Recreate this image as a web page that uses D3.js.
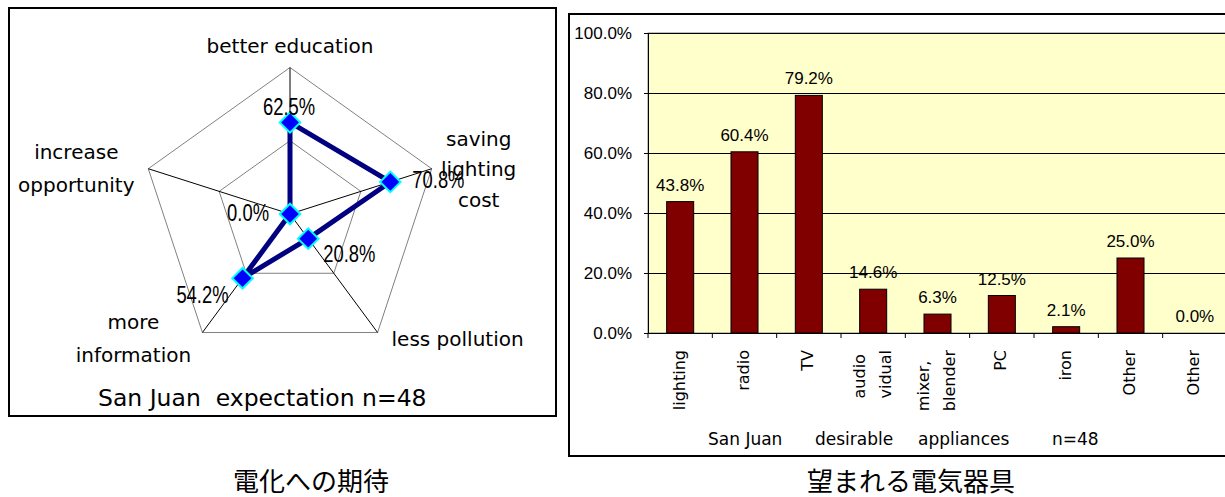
<!DOCTYPE html>
<html>
<head>
<meta charset="utf-8">
<script src="https://cdn.jsdelivr.net/npm/d3@7/dist/d3.min.js"></script>
<style>
  html, body { margin: 0; padding: 0; background: #fff; }
  svg { display: block; }
  text { white-space: pre; }
  .lbl { font-family: "DejaVu Sans", sans-serif; fill: #000; }
  .jp { font-family: "Noto Sans CJK JP", sans-serif; fill: #000; }
  .num { font-family: "Liberation Sans", Arial, sans-serif; fill: #000; }
</style>
</head>
<body>
<svg id="chart" width="1225" height="497"></svg>
<script>
// Radar: expectations of electrification (San Juan, n=48)
const radarAxes = [
  ["better education"],
  ["saving", "lighting", "cost"],
  ["less pollution"],
  ["more", "information"],
  ["increase", "opportunity"]
];
const radarValues = [62.5, 70.8, 20.8, 54.2, 0.0];
const radarGridLevels = [50, 100];
const radarTitle = "San Juan  expectation n=48";

// Bars: desirable appliances (San Juan, n=48)
const applianceLabels = [
  ["lighting"], ["radio"], ["TV"], ["audio", "vidual"], ["mixer,", "blender"],
  ["PC"], ["iron"], ["Other"], ["Other"]
];
const applianceValues = [43.8, 60.4, 79.2, 14.6, 6.3, 12.5, 2.1, 25.0, 0.0];
const barTicks = [0, 20, 40, 60, 80, 100];
const barTitleWords = ["San Juan", "desirable", "appliances", "n=48"];

const captions = ["電化への期待", "望まれる電気器具"];

const svg = d3.select("#chart");
const pct = d => d.toFixed(1) + "%";

// text drawn with a horizontal squeeze (narrow-looking lettering)
function squeezed(parent, cls, x, y, size, sx, anchor, str) {
  return parent.append("text").attr("class", cls)
    .attr("transform", `translate(${x},${y}) scale(${sx},1)`)
    .attr("font-size", size).attr("text-anchor", anchor).text(str);
}

/* ---------------- radar panel ---------------- */
svg.append("rect").attr("x", 9).attr("y", 8).attr("width", 547).attr("height", 408)
  .attr("fill", "#fff").attr("stroke", "#000").attr("stroke-width", 2);

const cx = 290, cy = 214;
const rx = d3.scaleLinear().domain([0, 100]).range([0, 149]);
const ry = d3.scaleLinear().domain([0, 100]).range([0, 146.5]);
const angle = d3.scaleLinear().domain([0, radarAxes.length]).range([0, 2 * Math.PI]);
const pt = (i, v) => {
  const a = angle(i);
  return [cx + rx(v) * Math.sin(a), cy - ry(v) * Math.cos(a)];
};

const radar = svg.append("g");
radarGridLevels.forEach(lv => {
  radar.append("polygon")
    .attr("points", radarAxes.map((_, i) => pt(i, lv).join(",")).join(" "))
    .attr("fill", "none").attr("stroke", "#808080").attr("stroke-width", 1);
});
radarAxes.forEach((_, i) => {
  const [x, y] = pt(i, 100);
  radar.append("line").attr("x1", cx).attr("y1", cy).attr("x2", x).attr("y2", y)
    .attr("stroke", "#000").attr("stroke-width", 1);
});

const radarLine = d3.line().curve(d3.curveLinearClosed);
radar.append("path")
  .attr("d", radarLine(radarValues.map((v, i) => pt(i, v))))
  .attr("fill", "none").attr("stroke", "#000080").attr("stroke-width", 5)
  .attr("stroke-linejoin", "miter");

const diamond = d3.symbol().type(d3.symbolSquare).size(210);
radarValues.forEach((v, i) => {
  const [x, y] = pt(i, v);
  radar.append("path").attr("d", diamond())
    .attr("transform", `translate(${x},${y}) rotate(45)`)
    .attr("fill", "#0000ff").attr("stroke", "#00ffff").attr("stroke-width", 2);
});

// value label placement around each marker: [dx, dy, anchor]
const valuePlacement = [[-1, -7, "middle"], [22, 6, "start"], [15, 23, "start"], [-14, 25, "end"], [-21, 7, "end"]];
radarValues.forEach((v, i) => {
  const [x, y] = pt(i, v);
  const [dx, dy, anc] = valuePlacement[i];
  squeezed(radar, "num", x + dx, y + dy, 23, 0.8, anc, pct(v));
});

// axis label placement relative to the outer vertex: [dx, dy of first baseline, line step]
const axisPlacement = [[0, -15, 31], [47, -23, 30.5], [80, 13, 31], [-69, -3.5, 33], [-72, -9.7, 33]];
radarAxes.forEach((lines, i) => {
  const [x, y] = pt(i, 100);
  const [dx, dy, step] = axisPlacement[i];
  const t = radar.append("text").attr("class", "lbl").attr("font-size", 20)
    .attr("text-anchor", "middle");
  lines.forEach((s, k) => {
    t.append("tspan").attr("x", x + dx).attr("y", y + dy + k * step).text(s);
  });
});

svg.append("text").attr("class", "lbl").attr("x", 98).attr("y", 406)
  .attr("font-size", 23.5).text(radarTitle);

/* ---------------- bar panel ---------------- */
svg.append("rect").attr("x", 569).attr("y", 14).attr("width", 700).attr("height", 442)
  .attr("fill", "#fff").attr("stroke", "#000").attr("stroke-width", 2);

const plot = { left: 648, top: 33, width: 579, height: 300 };
const x = d3.scaleBand().domain(applianceValues.map((_, i) => i))
  .range([plot.left, plot.left + plot.width]).paddingInner(0.58).paddingOuter(0.29);
const y = d3.scaleLinear().domain([0, 100]).range([plot.top + plot.height, plot.top]);
const band = plot.width / applianceValues.length;

const bars = svg.append("g");
bars.append("rect").attr("x", plot.left).attr("y", plot.top)
  .attr("width", plot.width).attr("height", plot.height)
  .attr("fill", "#ffffcc").attr("stroke", "#808080").attr("stroke-width", 1);

bars.append("g").selectAll("line").data(barTicks.filter(d => d > 0)).join("line")
  .attr("x1", plot.left).attr("x2", plot.left + plot.width)
  .attr("y1", d => y(d) + 0.5).attr("y2", d => y(d) + 0.5)
  .attr("stroke", "#000").attr("stroke-width", 1);

const yAxis = bars.append("g").attr("transform", `translate(${plot.left},0)`)
  .call(d3.axisLeft(y).tickValues(barTicks).tickSize(4).tickPadding(12).tickFormat(pct));
yAxis.select(".domain").attr("stroke", "#000");
yAxis.selectAll("text").attr("class", "num").attr("font-size", 17).attr("fill", "#000");

bars.append("g").selectAll("rect").data(applianceValues).join("rect")
  .attr("x", (d, i) => x(i)).attr("width", x.bandwidth())
  .attr("y", d => y(d)).attr("height", d => y(0) - y(d))
  .attr("fill", "#800000").attr("stroke", "#000").attr("stroke-width", 1);

bars.append("g").selectAll("text").data(applianceValues).join("text")
  .attr("class", "num").attr("font-size", 17).attr("text-anchor", "middle")
  .attr("x", (d, i) => x(i) + x.bandwidth() / 2).attr("y", d => y(d) - 11)
  .text(pct);

// x axis baseline and band separators
bars.append("line").attr("x1", plot.left).attr("x2", plot.left + plot.width)
  .attr("y1", y(0) + 0.5).attr("y2", y(0) + 0.5).attr("stroke", "#000");
bars.append("g").selectAll("line").data(d3.range(applianceValues.length + 1)).join("line")
  .attr("x1", i => plot.left + i * band).attr("x2", i => plot.left + i * band)
  .attr("y1", y(0)).attr("y2", y(0) + 5).attr("stroke", "#000");

// rotated category labels: block aligned to the top, lines start-aligned within it
const labTop = y(0) + 17;
const lineStep = 26;
applianceLabels.forEach((lines, i) => {
  const cxBand = x(i) + x.bandwidth() / 2;
  const g = bars.append("g");
  const texts = lines.map(s => g.append("text").attr("class", "lbl")
    .attr("font-size", 16).attr("text-anchor", "start").text(s));
  const maxLen = d3.max(texts, t => t.node().getComputedTextLength());
  texts.forEach((t, k) => {
    const off = (k - (lines.length - 1) / 2) * lineStep + 4.5;
    t.attr("transform", `translate(${cxBand + off},${labTop + maxLen}) rotate(-90)`);
  });
});

// chart title, words spread with wide gaps
const titleStarts = [708, 815, 918, 1052];
const titleText = svg.append("text").attr("class", "lbl").attr("y", 445).attr("font-size", 17);
barTitleWords.forEach((w, k) => titleText.append("tspan").attr("x", titleStarts[k]).text(w));

/* ---------------- captions ---------------- */
svg.append("text").attr("class", "jp").attr("x", 311).attr("y", 491)
  .attr("text-anchor", "middle").attr("font-size", 26).text(captions[0]);
svg.append("text").attr("class", "jp").attr("x", 911).attr("y", 491)
  .attr("text-anchor", "middle").attr("font-size", 26).text(captions[1]);
</script>
</body>
</html>
